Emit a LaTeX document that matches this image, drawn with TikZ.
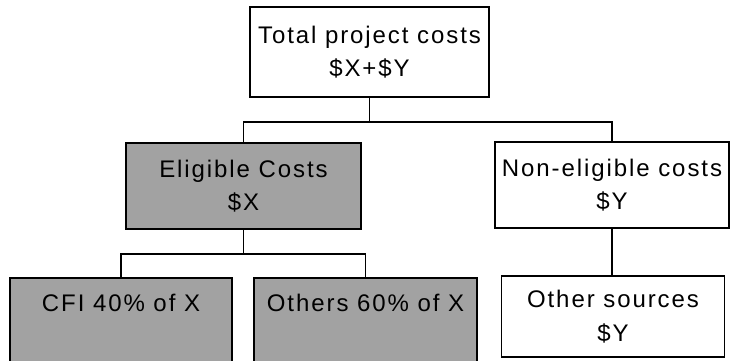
\documentclass[tikz,border=0pt]{standalone}
\usepackage{fontspec}
\setmainfont{Liberation Sans}[LetterSpace=8.0]
\definecolor{eligibleGray}{RGB}{162,162,162}
\tikzset{
  costbox/.style={draw, line width=1.4pt, inner sep=0pt, align=center, font=\fontsize{18pt}{25pt}\selectfont},
  shared/.style={costbox, fill=eligibleGray},
  link/.style={line width=1.1pt}
}

\begin{document}
\begin{tikzpicture}[x=0.75pt,y=0.75pt,yscale=-1,xscale=1]
\useasboundingbox (0,0) rectangle (730,360);

\node [costbox, minimum width=179.25pt, minimum height=67.5pt] (total) at (369.5,52) {Total project costs\\\$X+\$Y};
\node [shared, minimum width=176.25pt, minimum height=64.5pt] (eligible) at (243.5,186) {Eligible Costs\\\$X};
\node [costbox, minimum width=175.5pt, minimum height=64.5pt] (noneligible) at (612,185) {Non-eligible costs\\\$Y};

\node [shared, anchor=north, minimum width=166.5pt, text height=25.5pt, text depth=40.5pt] (cfi) at (121,277) {CFI 40\% of X};
\node [shared, anchor=north, minimum width=167.25pt, text height=25.5pt, text depth=40.5pt] (others) at (365.5,277) {Others 60\% of X};
\node [costbox, minimum width=167.25pt, minimum height=60.75pt] (othersources) at (613,316.5) {Other sources\\\$Y};

\draw [link] (total.south) -- ++(0,24) -| (eligible.north);
\draw [link] (total.south) -- ++(0,24) -| (noneligible.north);
\draw [link] (eligible.south) -- ++(0,24) -| (cfi.north);
\draw [link] (eligible.south) -- ++(0,24) -| (others.north);
\draw [link] (noneligible.south) -- (noneligible.south |- othersources.north);
\end{tikzpicture}
\end{document}
